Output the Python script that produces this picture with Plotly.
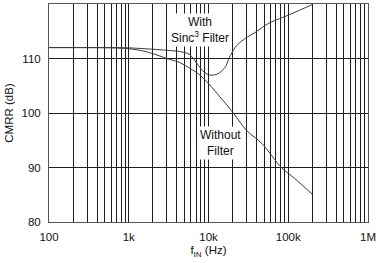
import plotly.graph_objects as go

# Data
freq_without = [100, 300, 600, 1000, 1500, 2000, 3000, 4300, 6000, 7600, 10000,
                15000, 20700, 30000, 46700, 82000, 120000, 200000]
cmrr_without = [112.0, 112.0, 111.95, 111.8, 111.4, 110.9, 110.0, 109.3, 108.1,
                107.1, 105.4, 102.4, 99.9, 96.8, 94.4, 90.0, 88.0, 85.1]

freq_sinc = [100, 300, 600, 1000, 2000, 3000, 4300, 5700, 6600, 7500, 8400, 9500,
             10600, 12000, 13500, 15000, 16400, 17900, 19700, 22600, 29000, 38600,
             56000, 110000, 200000]
cmrr_sinc = [112.0, 112.0, 112.0, 111.95, 111.7, 111.5, 111.3, 110.8, 109.8, 108.7,
             107.8, 107.2, 106.95, 107.0, 107.3, 107.9, 108.5, 109.9, 111.1, 112.4,
             113.7, 114.8, 116.4, 118.2, 119.9]

x_tickvals = [100, 1000, 10000, 100000, 1000000]
x_ticktext = ["100", "1k", "10k", "100k", "1M"]
y_tickvals = [80, 90, 100, 110, 120]

FONT = "Liberation Sans, Arial, sans-serif"
GRID = "#1e1e1e"
CURVE = "#3a3a3a"

fig = go.Figure()
fig.add_trace(go.Scatter(x=freq_without, y=cmrr_without, mode="lines",
                         line=dict(color=CURVE, width=1, shape="spline", smoothing=0.8),
                         showlegend=False, hoverinfo="skip"))
fig.add_trace(go.Scatter(x=freq_sinc, y=cmrr_sinc, mode="lines",
                         line=dict(color=CURVE, width=1, shape="spline", smoothing=0.8),
                         showlegend=False, hoverinfo="skip"))

fig.add_annotation(x=3.893, y=115.3, xref="x", yref="y",
                   text="With<br>Sinc<sup>3</sup> Filter", showarrow=False,
                   font=dict(family=FONT, size=12, color="#111"),
                   bgcolor="white", borderpad=1, align="center")
fig.add_annotation(x=4.149, y=94.5, xref="x", yref="y",
                   text="Without<br>Filter", showarrow=False,
                   font=dict(family=FONT, size=12, color="#111"),
                   bgcolor="white", borderpad=1, align="center")

fig.update_xaxes(type="log", range=[2, 6], tickvals=x_tickvals, ticktext=x_ticktext,
                 showgrid=True, gridcolor=GRID, gridwidth=1,
                 minor=dict(dtick="D1", showgrid=True, gridcolor=GRID, gridwidth=1, ticks=""),
                 showline=True, linecolor="#555", linewidth=1, mirror=True,
                 ticks="", ticklabelstandoff=4, zeroline=False,
                 tickfont=dict(family=FONT, size=11.5, color="#111"),
                 title=dict(text="f<sub>IN</sub> (Hz)", standoff=4,
                            font=dict(family=FONT, size=11.5, color="#111")))
fig.update_yaxes(range=[80, 120], tickvals=y_tickvals,
                 showgrid=True, gridcolor=GRID, gridwidth=1,
                 showline=True, linecolor="#555", linewidth=1, mirror=True,
                 ticks="", ticklabelstandoff=5, zeroline=False,
                 tickfont=dict(family=FONT, size=11.5, color="#111"),
                 title=dict(text="CMRR (dB)", standoff=5,
                            font=dict(family=FONT, size=11.5, color="#111")))

fig.update_layout(width=379, height=263, margin=dict(l=49, r=8, t=3, b=41),
                  paper_bgcolor="white", plot_bgcolor="white", showlegend=False)

fig.write_html("out.html")
